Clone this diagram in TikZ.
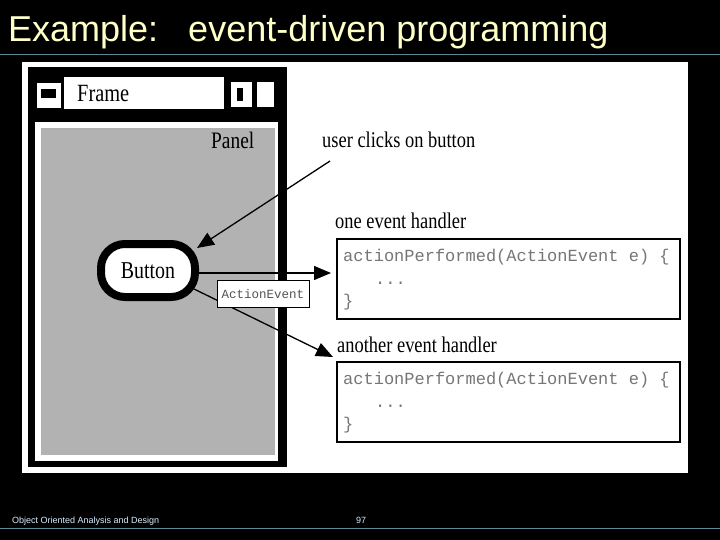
\documentclass[tikz,border=0pt]{standalone}
\usepackage{fontspec}
\setmainfont{Liberation Serif}
\newfontfamily\arialf{Liberation Sans}
\newfontfamily\monof{Liberation Mono}
\usetikzlibrary{arrows.meta}
\definecolor{titlecol}{HTML}{FFFFC8}
\definecolor{rulecol}{HTML}{5E8898}
\definecolor{footcol}{HTML}{D8EEFF}
\definecolor{panelgray}{HTML}{B2B2B2}
\definecolor{codegray}{HTML}{767676}
\newcommand{\tallt}[1]{\scalebox{0.97}[1.18]{#1}}
\begin{document}
\begin{tikzpicture}[x=1pt,y=-1pt,
  lbl/.style={font=\fontsize{19}{22}\selectfont, inner sep=0pt, anchor=base west, text=black},
  code/.style={font=\monof\fontsize{17}{20}\selectfont, inner sep=0pt, anchor=base west, text=codegray},
  codebox/.style={draw=black, line width=2pt, fill=white, anchor=north west, minimum width=343pt, minimum height=80pt, inner sep=0pt},
  arr/.style={-{Triangle[length=17pt,width=14pt]}, line width=1.3pt, draw=black},
  foot/.style={font=\arialf\fontsize{9}{10}\selectfont, inner sep=0pt, anchor=base west, text=footcol}]
\fill[black] (0,0) rectangle (720,540);
\useasboundingbox (0,0) rectangle (720,540);
% title
\node[anchor=base west, inner sep=0pt, text=titlecol, font=\arialf\fontsize{36}{40}\selectfont] (title) at (8,42) {Example:\ \ \ event-driven programming};
\draw[rulecol, line width=1pt] (0,55) -- (720,55);
\draw[rulecol, line width=1pt] (0,528) -- (720,528);
% picture area
\fill[white] (22,62) rectangle (688,473);
% frame window
\fill[black] (28,67) rectangle (287,467);
\fill[white] (35,122) rectangle (278,461);
\fill[panelgray] (41,128) rectangle (275,455);
\fill[white] (37,83) rectangle (61,108);
\fill[black] (41,89) rectangle (56,98);
\fill[white] (64,77) rectangle (224,109);
\fill[white] (231,82) rectangle (252,107);
\fill[black] (237,88) rectangle (243,101);
\fill[white] (257,82) rectangle (274,107);
\node[anchor=base west, inner sep=0pt, font=\fontsize{21}{24}\selectfont] (framelbl) at (77,102) {\tallt{Frame}};
\node[anchor=base west, inner sep=0pt, font=\fontsize{20}{24}\selectfont] (panellbl) at (211,149) {\tallt{Panel}};
% button
\node[draw=black, line width=8pt, rounded corners=24pt, fill=white, minimum width=94pt, minimum height=53pt, inner sep=0pt, font=\fontsize{20.5}{24}\selectfont] (button) at (148,270.5) {\tallt{Button}};
% labels
\node[lbl] (user) at (322,148) {\tallt{user clicks on button}};
\node[lbl] (one) at (335,229) {\tallt{one event handler}};
\node[lbl] (another) at (337,352) {\tallt{another event handler}};
% handler boxes
\node[codebox] (box1) at (336,238) {};
\node[code] (c1a) at (343,261) {actionPerformed(ActionEvent e) \{};
\node[code] (c1b) at (375,284) {...};
\node[code] (c1c) at (343,306) {\}};
\node[codebox] (box2) at (336,361) {};
\node[code] (c2a) at (343,384) {actionPerformed(ActionEvent e) \{};
\node[code] (c2b) at (375,407) {...};
\node[code] (c2c) at (343,429) {\}};
% connectors
\coordinate (ustart) at (330,161);
\coordinate (btop) at (197,248);
\coordinate (bright) at (198,273);
\coordinate (h1tip) at (331,273);
\coordinate (blow) at (194,289);
\coordinate (h2tip) at (333,357);
\draw[arr] (ustart) -- (btop);
\draw[arr] (bright) -- (h1tip);
\draw[arr] (blow) -- (h2tip);
% event box
\node[draw=black, fill=white, line width=1pt, minimum width=92pt, minimum height=27pt, inner sep=0pt, font=\monof\fontsize{12.5}{14}\selectfont, text=codegray!70!black] (ae) at (263,294) {ActionEvent};
% footer
\node[foot] (foot1) at (12,523) {Object Oriented Analysis and Design};
\node[foot] (foot2) at (356,523) {97};
\end{tikzpicture}
\end{document}
